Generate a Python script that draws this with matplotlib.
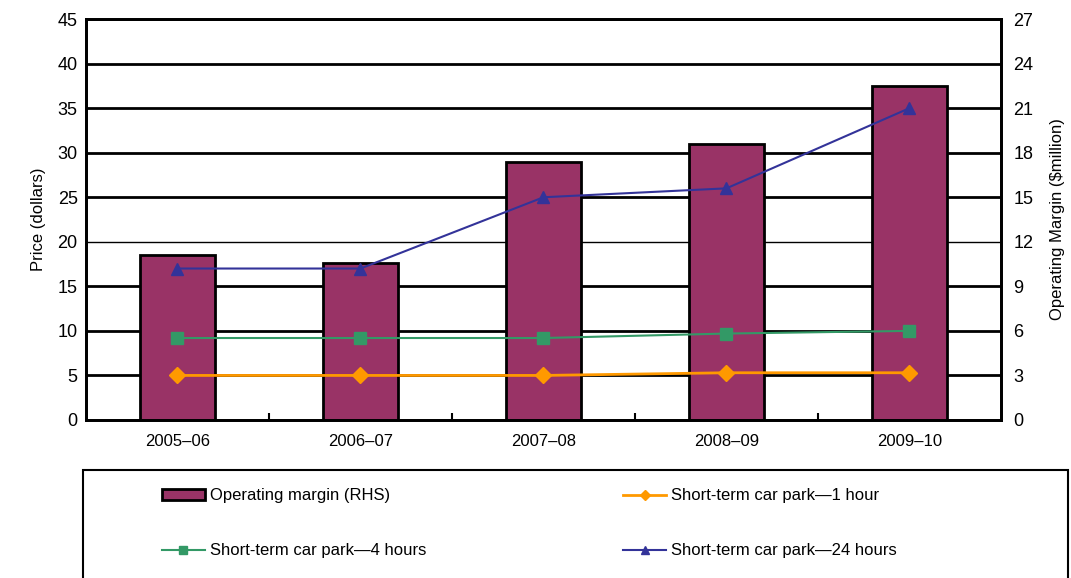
import matplotlib
matplotlib.use('Agg')
import matplotlib.pyplot as plt
from matplotlib.patches import Rectangle

plt.rcParams['font.family'] = ['Liberation Sans', 'DejaVu Sans']

years = ['2005–06', '2006–07', '2007–08', '2008–09', '2009–10']
margin = [11.1, 10.6, 17.4, 18.6, 22.5]      # $million, right axis
park_1h = [5.0, 5.0, 5.0, 5.3, 5.3]
park_4h = [9.2, 9.2, 9.2, 9.7, 10.0]
park_24h = [17.0, 17.0, 25.0, 26.0, 35.0]

fig = plt.figure(figsize=(10.71, 5.78), dpi=100)
ax = fig.add_axes([0.0803, 0.2734, 0.8543, 0.6936])
ax2 = ax.twinx()

x = list(range(len(years)))

# bars on the right-hand axis, drawn behind the price lines
ax2.bar(x, margin, width=0.41, color='#993366', edgecolor='black', linewidth=2, zorder=2,
        label='Operating margin (RHS)')
ax2.set_ylim(0, 27)
ax2.set_yticks(range(0, 28, 3))
ax2.set_ylabel('Operating Margin ($million)', fontsize=12, labelpad=12)
ax2.tick_params(axis='y', length=0, labelsize=13, pad=9)

ax.set_zorder(ax2.get_zorder() + 1)
ax.patch.set_visible(False)

ax.set_ylim(0, 45)
ax.set_xlim(-0.5, 4.5)
ax.set_yticks(range(0, 46, 5))
for v in range(5, 46, 5):
    ax2.axhline(v * 27 / 45, color='black', lw=2 if v != 20 else 1, zorder=1)

l1, = ax.plot(x, park_1h, color='#FF9900', lw=2, marker='D', ms=8, label='Short-term car park—1 hour')
l2, = ax.plot(x, park_4h, color='#339966', lw=1.5, marker='s', ms=9, label='Short-term car park—4 hours')
l3, = ax.plot(x, park_24h, color='#333399', lw=1.5, marker='^', ms=9, label='Short-term car park—24 hours')

ax.set_xticks(x)
ax.set_xticklabels(years, fontsize=12)
ax.set_xticks([0.5, 1.5, 2.5, 3.5], minor=True)
ax.tick_params(axis='x', which='major', length=0, pad=10)
ax.tick_params(axis='x', which='minor', length=5, direction='in', width=1.5)
ax.tick_params(axis='y', length=0, labelsize=13, pad=6)
ax.set_ylabel('Price (dollars)', fontsize=12, labelpad=8)

for a in (ax, ax2):
    for s in a.spines.values():
        s.set_linewidth(2)

# legend box running off the bottom edge
fig.patches.append(Rectangle((0.0775, -0.05), 0.92, 0.237, transform=fig.transFigure,
                             fill=False, edgecolor='black', lw=1.5))
bar_handle = ax2.containers[0].patches[0]
fig.legend([bar_handle, l2, l1, l3],
           ['Operating margin (RHS)', 'Short-term car park—4 hours',
            'Short-term car park—1 hour', 'Short-term car park—24 hours'],
           ncol=2, loc='upper left', bbox_to_anchor=(0.137, 0.181), frameon=False,
           fontsize=12, labelspacing=2.4, columnspacing=11.8, handlelength=2.6,
           handletextpad=0.3, markerscale=0.7)

fig.savefig('out.png', dpi=100)
